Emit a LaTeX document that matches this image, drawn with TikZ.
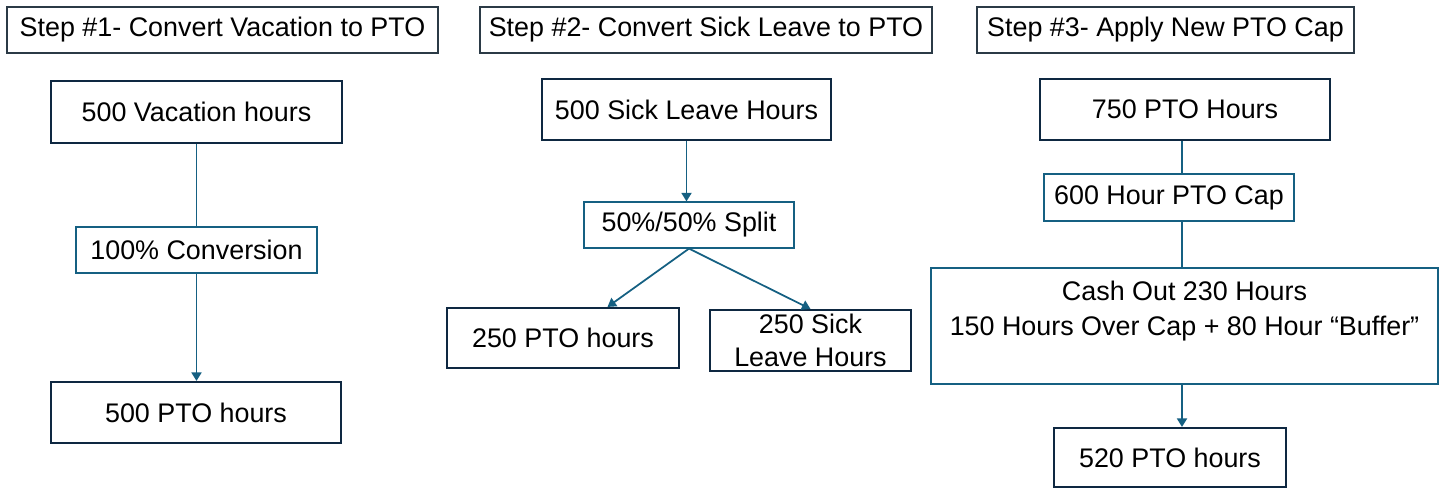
\documentclass[tikz,border=0pt]{standalone}
\usepackage{fontspec}
\setmainfont{Liberation Sans}
\usepackage{tikz}
\usetikzlibrary{arrows.meta,positioning,calc}
\definecolor{navy}{HTML}{0E2841}
\definecolor{linkblue}{HTML}{156082}
\definecolor{titlegray}{HTML}{2B3A46}

\begin{document}
\begin{tikzpicture}[
    font=\fontsize{15.3}{19}\selectfont,
    titlebox/.style={draw=titlegray,line width=0.7pt,minimum height=0.92cm,inner sep=0pt},
    hourbox/.style={draw=navy,line width=1.2pt,inner sep=0pt,align=center},
    notebox/.style={draw=linkblue,line width=0.7pt,inner sep=0pt,align=center},
    flow/.style={draw=linkblue,line width=1pt},
    flowarr/.style={flow,-{Triangle[length=0.17cm,width=0.2cm]}}
  ]
  \useasboundingbox (0,0) rectangle (28.88,-9.78);

  % step titles
  \node[titlebox,minimum width=8.62cm] (title1) at (4.45,-0.60) {Step \#1- Convert Vacation to PTO};
  \node[titlebox,minimum width=9.04cm] (title2) at (14.12,-0.60) {Step \#2- Convert Sick Leave to PTO};
  \node[titlebox,minimum width=7.54cm] (title3) at (23.31,-0.60) {Step \#3- Apply New PTO Cap};

  % step 1
  \node[hourbox,minimum width=5.82cm,minimum height=1.24cm] (vac) at (3.93,-2.24) {500 Vacation hours};
  \node[notebox,minimum width=4.82cm,minimum height=0.92cm] (conv) at (3.93,-5.00) {100\% Conversion};
  \node[hourbox,minimum width=5.80cm,minimum height=1.22cm] (pto1) at (3.92,-8.25) {500 PTO hours};

  \draw[flow] (vac.south) -- (conv.north);
  \draw[flowarr] (conv.south) -- (conv.south |- pto1.north);

  % step 2
  \node[hourbox,minimum width=5.78cm,minimum height=1.22cm] (sick) at (13.73,-2.19) {500 Sick Leave Hours};
  \node[notebox,minimum width=4.20cm,minimum height=0.92cm] (split) at (13.78,-4.50) {50\%/50\% Split};
  \node[hourbox,minimum width=4.64cm,minimum height=1.20cm] (pto2) at (11.26,-6.76) {250 PTO hours};
  \node[hourbox,minimum width=4.02cm,minimum height=1.22cm] (sick2) at (16.21,-6.81) {250 Sick\\Leave Hours};

  \draw[flowarr] (sick.south) -- (sick.south |- split.north);
  \draw[flowarr] (split.south) -- ($(pto2.north west)!0.69!(pto2.north east)$);
  \draw[flowarr] (split.south) -- (sick2.north);

  % step 3
  \node[hourbox,minimum width=5.80cm,minimum height=1.22cm] (pto3) at (23.70,-2.19) {750 PTO Hours};
  \node[notebox,minimum width=5.00cm,minimum height=0.94cm] (cap) at (23.38,-3.95) {600 Hour PTO Cap};
  \node[notebox,minimum width=10.14cm,minimum height=2.32cm,font=\fontsize{15.3}{19.8}\selectfont] (cash) at (23.69,-6.52)
    {Cash Out 230 Hours\\150 Hours Over Cap + 80 Hour “Buffer”\\ \mbox{}};
  \node[hourbox,minimum width=4.64cm,minimum height=1.18cm] (pto4) at (23.40,-9.15) {520 PTO hours};

  \draw[flow] (23.64,0 |- pto3.south) -- (23.64,0 |- cap.north);
  \draw[flow] (23.64,0 |- cap.south) -- (23.64,0 |- cash.north);
  \draw[flowarr] (23.64,0 |- cash.south) -- (23.64,0 |- pto4.north);
\end{tikzpicture}
\end{document}
